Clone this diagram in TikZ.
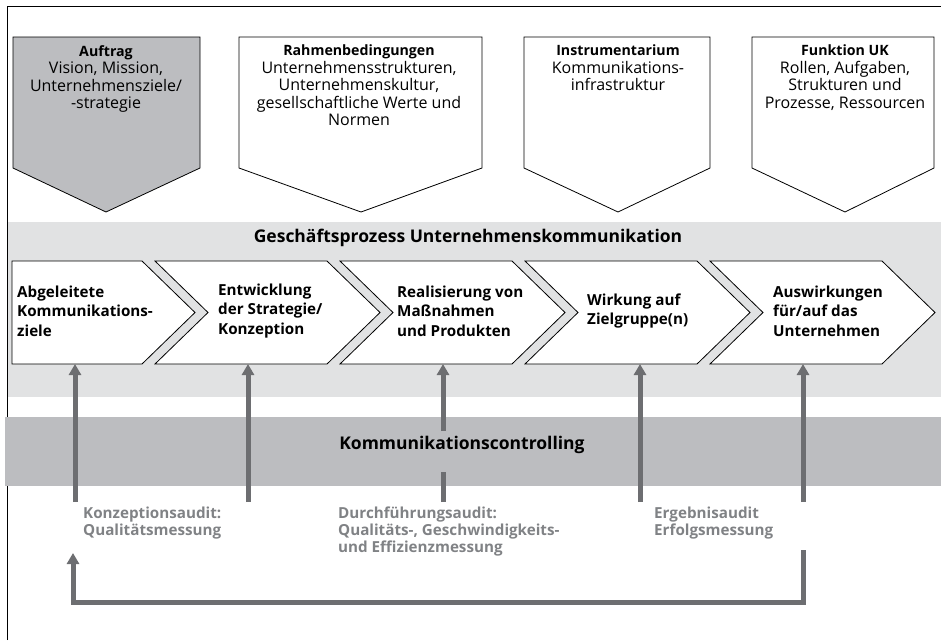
\documentclass[tikz,border=0pt]{standalone}
\usepackage{fontspec}
\setmainfont{Open Sans}
\usetikzlibrary{arrows.meta}
\definecolor{bandlight}{HTML}{E1E2E3}
\definecolor{banddark}{HTML}{BCBDC0}
\definecolor{arrowgray}{HTML}{6D6E71}
\definecolor{labelgray}{HTML}{808285}
\tikzset{
  pent/.style={draw=black, line width=0.8pt, fill=white, line join=miter},
  chev/.style={draw=black, line width=0.8pt, fill=white, line join=miter},
  ptext/.style={align=center, font=\fontsize{16}{17.5}\selectfont, inner sep=0pt, anchor=north},
  ptitle/.style={font=\fontsize{14.2}{17.5}\selectfont\bfseries},
  ctext/.style={align=left, font=\fontsize{15.2}{19.5}\selectfont\bfseries, inner sep=0pt, anchor=west},
  ltext/.style={align=left, text=labelgray, font=\fontsize{15.2}{16.8}\selectfont\bfseries, inner sep=0pt, anchor=north west},
  btitle/.style={font=\fontsize{17.5}{20}\selectfont\bfseries, inner sep=0pt},
  ctrl/.style={draw=arrowgray, line width=5pt, -{Triangle[width=12pt,length=11pt]}},
  ctrlplain/.style={draw=arrowgray, line width=5pt},
}
\newcommand{\ptl}[1]{{\fontsize{14.2}{17.5}\selectfont\bfseries #1}}
\begin{document}
\begin{tikzpicture}[x=1pt,y=-1pt]
\useasboundingbox (0,0) rectangle (941,640);
% light band
\fill[bandlight] (7,222) rectangle (941,397);
% frame (top and left)
\draw[line width=0.8pt] (7,640) -- (7,6) -- (941,6);
% dark band
\fill[banddark] (5,417) rectangle (941,486);

% top pentagons
\path[pent, fill=banddark] (13,37) -- (200,37) -- (200,168) -- (106,212) -- (13,168) -- cycle;
\path[pent] (239,37) -- (482,37) -- (482,168) -- (361,212) -- (239,168) -- cycle;
\path[pent] (524,37) -- (710,37) -- (710,168) -- (618,212) -- (524,168) -- cycle;
\path[pent] (752,37) -- (934,37) -- (934,168) -- (845,212) -- (752,168) -- cycle;

\node[ptext] (p1) at (106,45) {\ptl{Auftrag}\\Vision, Mission,\\Unternehmensziele/\\-strategie};
\node[ptext] (p2) at (359,45) {\ptl{Rahmenbedingungen}\\Unternehmensstrukturen,\\Unternehmenskultur,\\gesellschaftliche Werte und\\Normen};
\node[ptext] (p3) at (618,45) {\ptl{Instrumentarium}\\Kommunikations-\\infrastruktur};
\node[ptext] (p4) at (845,45) {\ptl{Funktion UK}\\Rollen, Aufgaben,\\Strukturen und\\Prozesse, Ressourcen};

% band title
\node[btitle] (gp) at (468,238) {Geschäftsprozess Unternehmenskommunikation};

% chevrons
\path[chev] (12,261) -- (142,261) -- (195,312.5) -- (142,364) -- (12,364) -- cycle;
\path[chev] (155,261) -- (327,261) -- (380,312.5) -- (327,364) -- (155,364) -- (208,312.5) -- cycle;
\path[chev] (340,261) -- (512,261) -- (565,312.5) -- (512,364) -- (340,364) -- (393,312.5) -- cycle;
\path[chev] (525,261) -- (697,261) -- (750,312.5) -- (697,364) -- (525,364) -- (578,312.5) -- cycle;
\path[chev] (710,261) -- (882,261) -- (935,312.5) -- (882,364) -- (710,364) -- (763,312.5) -- cycle;

\node[ctext] (c1) at (17,311) {Abgeleitete\\Kommunikations-\\ziele};
\node[ctext] (c2) at (218,311) {Entwicklung\\der Strategie/\\Konzeption};
\node[ctext] (c3) at (397,311) {Realisierung von\\Maßnahmen\\und Produkten};
\node[ctext] (c4) at (587,311) {Wirkung auf\\Zielgruppe(n)};
\node[ctext] (c5) at (773,311) {Auswirkungen\\für/auf das\\Unternehmen};

% controlling title
\node[btitle] (kc) at (462,445) {Kommunikationscontrolling};

% arrow end points
\coordinate (t1) at (75,364);
\coordinate (t2) at (248,364);
\coordinate (t3) at (443,364);
\coordinate (t4) at (640,364);
\coordinate (t5) at (803,364);
\coordinate (s1) at (75,502);
\coordinate (s2) at (248,502);
\coordinate (s3) at (443,502);
\coordinate (s4) at (640,502);
\coordinate (s5) at (803,502);
\coordinate (g3a) at (443,472);
\coordinate (g3b) at (443,431);

\draw[ctrl] (s1) -- (t1);
\draw[ctrl] (s2) -- (t2);
\draw[ctrlplain] (s3) -- (g3a);
\draw[ctrl] (g3b) -- (t3);
\draw[ctrl] (s4) -- (t4);
\draw[ctrl] (s5) -- (t5);

% labels
\node[ltext] (l1) at (83,507) {Konzeptionsaudit:\\Qualitätsmessung};
\node[ltext] (l2) at (338,507) {Durchführungsaudit:\\Qualitäts-, Geschwindigkeits-\\und Effizienzmessung};
\node[ltext] (l3) at (654,507) {Ergebnisaudit\\Erfolgsmessung};

% feedback loop
\coordinate (fbs) at (803,550);
\coordinate (fbr) at (803,602);
\coordinate (fbl) at (73,602);
\coordinate (fbe) at (73,553);
\draw[ctrl, line join=miter] (fbs) -- (fbr) -- (fbl) -- (fbe);
\end{tikzpicture}
\end{document}
